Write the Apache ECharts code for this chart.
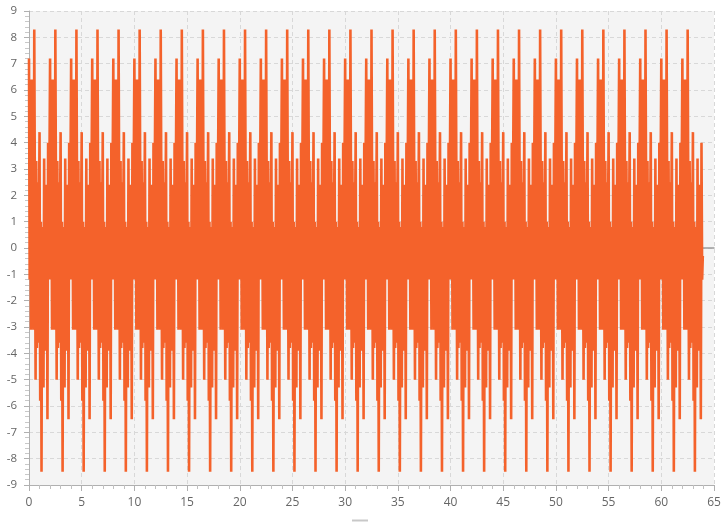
<!DOCTYPE html>
<html><head><meta charset="utf-8">
<script src="https://cdn.jsdelivr.net/npm/echarts@6/dist/echarts.min.js"></script>
<style>html,body{margin:0;padding:0;background:#fff}#c{width:728px;height:522px}</style>
</head><body><div id="c"></div>
<script>
// samples per x unit (1024 samples over 0..64)
const SAMPLE_RATE = 16;
const xRange = [0, 65];
const yRange = [-9, 9];
const signal = [
7.2,-1.2,3.0,-3.1,6.4,-1.9,2.0,-3.1,8.3,1.5,-5.0,3.3,-3.8,2.5,-3.6,0.8,4.4,-5.8,1.0,-8.5,0.8,-3.8,-5.3,3.4,-3.9,2.4,-3.7,2.2,-6.5,4.0,-1.2,3.0,
7.2,-1.2,3.0,-3.1,6.4,-1.9,2.0,-3.1,8.3,1.5,-5.0,3.3,-3.8,2.5,-3.6,0.8,4.4,-5.8,1.0,-8.5,0.8,-3.8,-5.3,3.4,-3.9,2.4,-3.7,2.2,-6.5,4.0,-1.2,3.0,
7.2,-1.2,3.0,-3.1,6.4,-1.9,2.0,-3.1,8.3,1.5,-5.0,3.3,-3.8,2.5,-3.6,0.8,4.4,-5.8,1.0,-8.5,0.8,-3.8,-5.3,3.4,-3.9,2.4,-3.7,2.2,-6.5,4.0,-1.2,3.0,
7.2,-1.2,3.0,-3.1,6.4,-1.9,2.0,-3.1,8.3,1.5,-5.0,3.3,-3.8,2.5,-3.6,0.8,4.4,-5.8,1.0,-8.5,0.8,-3.8,-5.3,3.4,-3.9,2.4,-3.7,2.2,-6.5,4.0,-1.2,3.0,
7.2,-1.2,3.0,-3.1,6.4,-1.9,2.0,-3.1,8.3,1.5,-5.0,3.3,-3.8,2.5,-3.6,0.8,4.4,-5.8,1.0,-8.5,0.8,-3.8,-5.3,3.4,-3.9,2.4,-3.7,2.2,-6.5,4.0,-1.2,3.0,
7.2,-1.2,3.0,-3.1,6.4,-1.9,2.0,-3.1,8.3,1.5,-5.0,3.3,-3.8,2.5,-3.6,0.8,4.4,-5.8,1.0,-8.5,0.8,-3.8,-5.3,3.4,-3.9,2.4,-3.7,2.2,-6.5,4.0,-1.2,3.0,
7.2,-1.2,3.0,-3.1,6.4,-1.9,2.0,-3.1,8.3,1.5,-5.0,3.3,-3.8,2.5,-3.6,0.8,4.4,-5.8,1.0,-8.5,0.8,-3.8,-5.3,3.4,-3.9,2.4,-3.7,2.2,-6.5,4.0,-1.2,3.0,
7.2,-1.2,3.0,-3.1,6.4,-1.9,2.0,-3.1,8.3,1.5,-5.0,3.3,-3.8,2.5,-3.6,0.8,4.4,-5.8,1.0,-8.5,0.8,-3.8,-5.3,3.4,-3.9,2.4,-3.7,2.2,-6.5,4.0,-1.2,3.0,
7.2,-1.2,3.0,-3.1,6.4,-1.9,2.0,-3.1,8.3,1.5,-5.0,3.3,-3.8,2.5,-3.6,0.8,4.4,-5.8,1.0,-8.5,0.8,-3.8,-5.3,3.4,-3.9,2.4,-3.7,2.2,-6.5,4.0,-1.2,3.0,
7.2,-1.2,3.0,-3.1,6.4,-1.9,2.0,-3.1,8.3,1.5,-5.0,3.3,-3.8,2.5,-3.6,0.8,4.4,-5.8,1.0,-8.5,0.8,-3.8,-5.3,3.4,-3.9,2.4,-3.7,2.2,-6.5,4.0,-1.2,3.0,
7.2,-1.2,3.0,-3.1,6.4,-1.9,2.0,-3.1,8.3,1.5,-5.0,3.3,-3.8,2.5,-3.6,0.8,4.4,-5.8,1.0,-8.5,0.8,-3.8,-5.3,3.4,-3.9,2.4,-3.7,2.2,-6.5,4.0,-1.2,3.0,
7.2,-1.2,3.0,-3.1,6.4,-1.9,2.0,-3.1,8.3,1.5,-5.0,3.3,-3.8,2.5,-3.6,0.8,4.4,-5.8,1.0,-8.5,0.8,-3.8,-5.3,3.4,-3.9,2.4,-3.7,2.2,-6.5,4.0,-1.2,3.0,
7.2,-1.2,3.0,-3.1,6.4,-1.9,2.0,-3.1,8.3,1.5,-5.0,3.3,-3.8,2.5,-3.6,0.8,4.4,-5.8,1.0,-8.5,0.8,-3.8,-5.3,3.4,-3.9,2.4,-3.7,2.2,-6.5,4.0,-1.2,3.0,
7.2,-1.2,3.0,-3.1,6.4,-1.9,2.0,-3.1,8.3,1.5,-5.0,3.3,-3.8,2.5,-3.6,0.8,4.4,-5.8,1.0,-8.5,0.8,-3.8,-5.3,3.4,-3.9,2.4,-3.7,2.2,-6.5,4.0,-1.2,3.0,
7.2,-1.2,3.0,-3.1,6.4,-1.9,2.0,-3.1,8.3,1.5,-5.0,3.3,-3.8,2.5,-3.6,0.8,4.4,-5.8,1.0,-8.5,0.8,-3.8,-5.3,3.4,-3.9,2.4,-3.7,2.2,-6.5,4.0,-1.2,3.0,
7.2,-1.2,3.0,-3.1,6.4,-1.9,2.0,-3.1,8.3,1.5,-5.0,3.3,-3.8,2.5,-3.6,0.8,4.4,-5.8,1.0,-8.5,0.8,-3.8,-5.3,3.4,-3.9,2.4,-3.7,2.2,-6.5,4.0,-1.2,3.0,
7.2,-1.2,3.0,-3.1,6.4,-1.9,2.0,-3.1,8.3,1.5,-5.0,3.3,-3.8,2.5,-3.6,0.8,4.4,-5.8,1.0,-8.5,0.8,-3.8,-5.3,3.4,-3.9,2.4,-3.7,2.2,-6.5,4.0,-1.2,3.0,
7.2,-1.2,3.0,-3.1,6.4,-1.9,2.0,-3.1,8.3,1.5,-5.0,3.3,-3.8,2.5,-3.6,0.8,4.4,-5.8,1.0,-8.5,0.8,-3.8,-5.3,3.4,-3.9,2.4,-3.7,2.2,-6.5,4.0,-1.2,3.0,
7.2,-1.2,3.0,-3.1,6.4,-1.9,2.0,-3.1,8.3,1.5,-5.0,3.3,-3.8,2.5,-3.6,0.8,4.4,-5.8,1.0,-8.5,0.8,-3.8,-5.3,3.4,-3.9,2.4,-3.7,2.2,-6.5,4.0,-1.2,3.0,
7.2,-1.2,3.0,-3.1,6.4,-1.9,2.0,-3.1,8.3,1.5,-5.0,3.3,-3.8,2.5,-3.6,0.8,4.4,-5.8,1.0,-8.5,0.8,-3.8,-5.3,3.4,-3.9,2.4,-3.7,2.2,-6.5,4.0,-1.2,3.0,
7.2,-1.2,3.0,-3.1,6.4,-1.9,2.0,-3.1,8.3,1.5,-5.0,3.3,-3.8,2.5,-3.6,0.8,4.4,-5.8,1.0,-8.5,0.8,-3.8,-5.3,3.4,-3.9,2.4,-3.7,2.2,-6.5,4.0,-1.2,3.0,
7.2,-1.2,3.0,-3.1,6.4,-1.9,2.0,-3.1,8.3,1.5,-5.0,3.3,-3.8,2.5,-3.6,0.8,4.4,-5.8,1.0,-8.5,0.8,-3.8,-5.3,3.4,-3.9,2.4,-3.7,2.2,-6.5,4.0,-1.2,3.0,
7.2,-1.2,3.0,-3.1,6.4,-1.9,2.0,-3.1,8.3,1.5,-5.0,3.3,-3.8,2.5,-3.6,0.8,4.4,-5.8,1.0,-8.5,0.8,-3.8,-5.3,3.4,-3.9,2.4,-3.7,2.2,-6.5,4.0,-1.2,3.0,
7.2,-1.2,3.0,-3.1,6.4,-1.9,2.0,-3.1,8.3,1.5,-5.0,3.3,-3.8,2.5,-3.6,0.8,4.4,-5.8,1.0,-8.5,0.8,-3.8,-5.3,3.4,-3.9,2.4,-3.7,2.2,-6.5,4.0,-1.2,3.0,
7.2,-1.2,3.0,-3.1,6.4,-1.9,2.0,-3.1,8.3,1.5,-5.0,3.3,-3.8,2.5,-3.6,0.8,4.4,-5.8,1.0,-8.5,0.8,-3.8,-5.3,3.4,-3.9,2.4,-3.7,2.2,-6.5,4.0,-1.2,3.0,
7.2,-1.2,3.0,-3.1,6.4,-1.9,2.0,-3.1,8.3,1.5,-5.0,3.3,-3.8,2.5,-3.6,0.8,4.4,-5.8,1.0,-8.5,0.8,-3.8,-5.3,3.4,-3.9,2.4,-3.7,2.2,-6.5,4.0,-1.2,3.0,
7.2,-1.2,3.0,-3.1,6.4,-1.9,2.0,-3.1,8.3,1.5,-5.0,3.3,-3.8,2.5,-3.6,0.8,4.4,-5.8,1.0,-8.5,0.8,-3.8,-5.3,3.4,-3.9,2.4,-3.7,2.2,-6.5,4.0,-1.2,3.0,
7.2,-1.2,3.0,-3.1,6.4,-1.9,2.0,-3.1,8.3,1.5,-5.0,3.3,-3.8,2.5,-3.6,0.8,4.4,-5.8,1.0,-8.5,0.8,-3.8,-5.3,3.4,-3.9,2.4,-3.7,2.2,-6.5,4.0,-1.2,3.0,
7.2,-1.2,3.0,-3.1,6.4,-1.9,2.0,-3.1,8.3,1.5,-5.0,3.3,-3.8,2.5,-3.6,0.8,4.4,-5.8,1.0,-8.5,0.8,-3.8,-5.3,3.4,-3.9,2.4,-3.7,2.2,-6.5,4.0,-1.2,3.0,
7.2,-1.2,3.0,-3.1,6.4,-1.9,2.0,-3.1,8.3,1.5,-5.0,3.3,-3.8,2.5,-3.6,0.8,4.4,-5.8,1.0,-8.5,0.8,-3.8,-5.3,3.4,-3.9,2.4,-3.7,2.2,-6.5,4.0,-1.2,3.0,
7.2,-1.2,3.0,-3.1,6.4,-1.9,2.0,-3.1,8.3,1.5,-5.0,3.3,-3.8,2.5,-3.6,0.8,4.4,-5.8,1.0,-8.5,0.8,-3.8,-5.3,3.4,-3.9,2.4,-3.7,2.2,-6.5,4.0,-1.2,3.0,
7.2,-1.2,3.0,-3.1,6.4,-1.9,2.0,-3.1,8.3,1.5,-5.0,3.3,-3.8,2.5,-3.6,0.8,4.4,-5.8,1.0,-8.5,0.8,-3.8,-5.3,3.4,-3.9,2.4,-3.7,2.2,-6.5,4.0,-1.2,-0.3
];

const data = signal.map((v, i) => [i / SAMPLE_RATE, v]);

const labelFont = '"Open Sans", "Noto Sans", sans-serif';
const chart = echarts.init(document.getElementById('c'), null, { renderer: 'canvas' });
chart.setOption({
  animation: false,
  grid: { left: 29, right: 14, top: 11, bottom: 37, show: true, backgroundColor: '#f4f4f4', borderWidth: 0 },
  graphic: [{ type: 'line', shape: { x1: 352, y1: 520.5, x2: 368, y2: 520.5 }, style: { stroke: '#c8c8c8', lineWidth: 2 } }],
  xAxis: [{
    type: 'value', min: xRange[0], max: xRange[1], interval: 5,
    axisLine: { onZero: false, lineStyle: { color: '#b0b0b0' } },
    axisTick: { length: 6, lineStyle: { color: '#b0b0b0' } },
    minorTick: { show: true, splitNumber: 5, length: 4, lineStyle: { color: '#c0c0c0' } },
    axisLabel: { color: '#666', fontSize: 12, margin: 12, fontFamily: labelFont },
    splitLine: { show: true, lineStyle: { type: [4, 3], color: '#d8d8d8' } }
  }, {
    type: 'value', min: xRange[0], max: xRange[1], position: 'bottom',
    axisLine: { onZero: true, lineStyle: { color: '#9a9a9a', width: 1.5 } },
    axisTick: { show: false }, axisLabel: { show: false }, splitLine: { show: false }
  }],
  yAxis: {
    type: 'value', min: yRange[0], max: yRange[1], interval: 1,
    axisLine: { show: true, lineStyle: { color: '#b0b0b0' } },
    axisTick: { show: true, length: 5, lineStyle: { color: '#b0b0b0' } },
    minorTick: { show: true, splitNumber: 5, length: 4, lineStyle: { color: '#c8c8c8' } },
    axisLabel: { color: '#666', fontSize: 11.5, margin: 12, fontFamily: labelFont },
    splitLine: { show: true, lineStyle: { type: [4, 3], color: '#d8d8d8' } }
  },
  series: [{
    type: 'line', xAxisIndex: 0, data: data, showSymbol: false, symbol: 'none',
    sampling: null, z: 3,
    lineStyle: { color: '#f4622b', width: 2.6 }
  }]
});
</script>
</body></html>
